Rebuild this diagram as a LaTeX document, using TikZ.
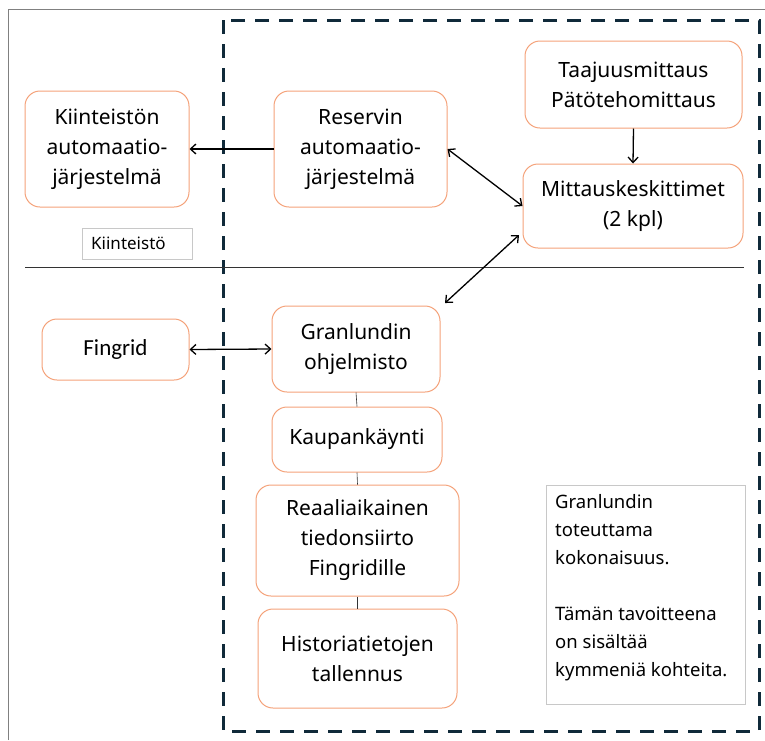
\documentclass[tikz,border=0pt]{standalone}
\usepackage{fontspec}
\setmainfont{Noto Sans}
\newfontfamily\calfont{Carlito}
\usetikzlibrary{arrows.meta}
\definecolor{boxorange}{HTML}{F4A27A}
\definecolor{dashnavy}{HTML}{102A3A}
\definecolor{framegray}{HTML}{808080}
\definecolor{notegray}{HTML}{C8C8C8}
\tikzset{
  rbox/.style={draw=boxorange, line width=1pt, rounded corners=15pt, align=center,
    font=\fontsize{21}{30}\selectfont, inner sep=0pt},
  notebox/.style={draw=notegray, line width=0.8pt, inner sep=0pt},
  conn/.style={line width=1.3pt, -{Straight Barb[length=5.5pt,width=10pt]}},
  dconn/.style={line width=1.3pt, {Straight Barb[length=5.5pt,width=10pt]}-{Straight Barb[length=5.5pt,width=10pt]}},
  thin link/.style={line width=0.6pt, draw=black!80},
}
\begin{document}
\begin{tikzpicture}[x=1pt,y=-1pt]
\useasboundingbox (0,0) rectangle (765,740);
% outer frame
\draw[framegray, line width=1pt] (8,740) -- (8,9) -- (765,9);
% dashed region
\draw[dashnavy, line width=3pt, dash pattern=on 14pt off 10pt] (223,20) rectangle (759,731);
% divider
\draw[line width=0.8pt, black!80] (25,267) -- (744,267);

% boxes
\node[rbox, minimum width=164pt, minimum height=116pt] (kiint) at (107,149) {Kiinteistön\\automaatio-\\järjestelmä};
\node[rbox, minimum width=173pt, minimum height=116pt] (reserv) at (360.5,149) {Reservin\\automaatio-\\järjestelmä};
\node[rbox, minimum width=217pt, minimum height=87pt] (taaj) at (633.5,84.5) {Taajuusmittaus\\Pätötehomittaus};
\node[rbox, minimum width=220pt, minimum height=84pt] (mitt) at (633,206) {Mittauskeskittimet\\(2 kpl)};
\node[rbox, minimum width=147pt, minimum height=61pt, font=\calfont\fontsize{23}{27}\selectfont] (fing) at (115.5,349.5) {Fingrid};
\node[rbox, minimum width=168pt, minimum height=86pt] (gran) at (356,349) {Granlundin\\ohjelmisto};
\node[rbox, minimum width=170pt, minimum height=65pt] (kaup) at (357,439.5) {Kaupankäynti};
\node[rbox, minimum width=203pt, minimum height=111pt] (reaal) at (357.5,540.5) {Reaaliaikainen\\tiedonsiirto\\Fingridille};
\node[rbox, minimum width=199pt, minimum height=99pt] (hist) at (357.5,658.5) {Historiatietojen\\tallennus};

% labels
\node[notebox, minimum width=110pt, minimum height=31pt] (kiintlab) at (137,243.5) {};
\node[anchor=west, font=\fontsize{17}{20}\selectfont, inner sep=0pt] (kiinttxt) at (91,243.5) {Kiinteistö};
\node[notebox, minimum width=199pt, minimum height=219pt] (note) at (645.5,594.5) {};
\node[anchor=north west, align=left, inner sep=0pt, font=\fontsize{18.5}{28}\selectfont] (notetxt) at (555,494)
  {Granlundin\\toteuttama\\kokonaisuus.\\[28pt]Tämän tavoitteena\\on sisältää\\kymmeniä kohteita.};

% connectors
\draw[conn] (reserv.west) -- (kiint.east);
\draw[conn] (taaj.south) -- (mitt.north);
\draw[dconn] (reserv.east) -- (mitt.west);
\coordinate (mittsw) at (519,235);
\coordinate (granne) at (445,303);
\draw[dconn] (mittsw) -- (granne);
\draw[dconn] (fing.east) -- (gran.west);
\draw[thin link] (gran.south) -- (kaup.north);
\draw[thin link] (kaup.south) -- (reaal.north);
\draw[thin link] (reaal.south) -- (hist.north);
\end{tikzpicture}
\end{document}
